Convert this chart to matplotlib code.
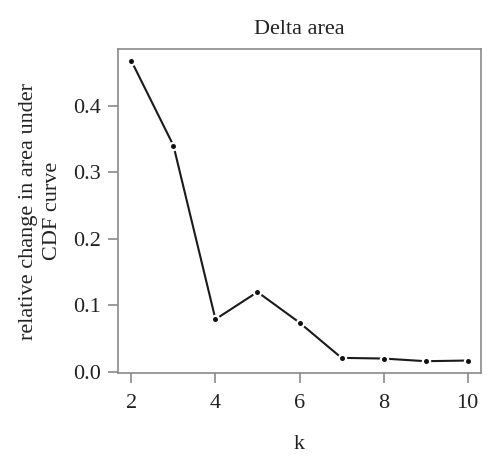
import matplotlib
matplotlib.use('Agg')
import matplotlib.pyplot as plt

# values
k_values = [2, 3, 4, 5, 6, 7, 8, 9, 10]
delta_area = [0.467, 0.340, 0.079, 0.120, 0.074, 0.021, 0.020, 0.016, 0.017]
x_ticks = [2, 4, 6, 8, 10]
y_ticks = [0.0, 0.1, 0.2, 0.3, 0.4]

plt.rcParams['font.family'] = ['Liberation Serif', 'DejaVu Serif']
plt.rcParams['font.size'] = 16

fig = plt.figure(figsize=(5.0, 4.63), dpi=100)
ax = fig.add_axes([0.236, 0.194, 0.726, 0.700])

# R style type="b": line broken around each point
ax.plot(k_values, delta_area, color='#1a1a1a', linewidth=1.5, zorder=2)
ax.plot(k_values, delta_area, linestyle='none', marker='o', markersize=3.6,
        markerfacecolor='#111111', markeredgecolor='white', markeredgewidth=3.2, zorder=3)
ax.plot(k_values, delta_area, linestyle='none', marker='o', markersize=3.6,
        markerfacecolor='#111111', markeredgecolor='#111111', markeredgewidth=0, zorder=4)

# R default 4% axis extension
xr = max(k_values) - min(k_values)
yr = max(delta_area) - min(delta_area)
ax.set_xlim(min(k_values) - 0.04 * xr, max(k_values) + 0.04 * xr)
ax.set_ylim(-0.002, max(delta_area) + 0.04 * yr)

ax.set_xticks(x_ticks)
ax.set_xticklabels([str(t) for t in x_ticks])
ax.set_yticks(y_ticks)
ax.set_yticklabels([f'{t:.1f}' for t in y_ticks])

for sp in ax.spines.values():
    sp.set_color('#8a8a8a')
    sp.set_linewidth(1.2)
ax.tick_params(direction='out', length=7, width=1.2, color='#8a8a8a',
               labelcolor='#222222')
ax.tick_params(axis='x', pad=8)
ax.tick_params(axis='y', pad=5)

ax.set_title('Delta area', fontsize=16, color='#222222', pad=11)
ax.set_xlabel('k', fontsize=16, color='#222222', labelpad=16)
ax.set_ylabel('relative change in area under\nCDF curve', fontsize=16,
              color='#222222', labelpad=8, linespacing=1.4)

fig.savefig('out.png', dpi=100)
